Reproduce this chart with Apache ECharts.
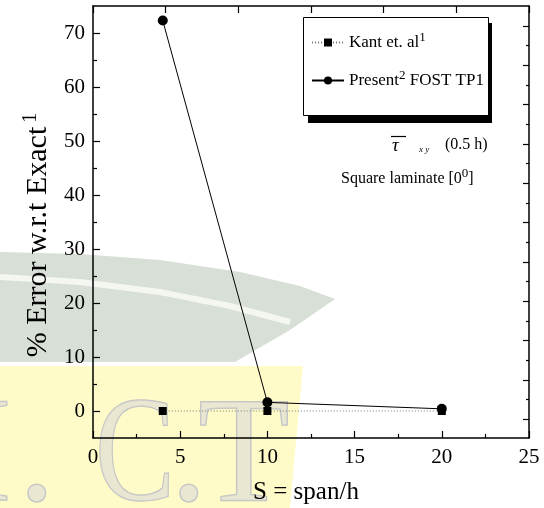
<!DOCTYPE html>
<html>
<head>
<meta charset="utf-8">
<script src="https://cdn.jsdelivr.net/npm/echarts@6/dist/echarts.min.js"></script>
<style>html,body{margin:0;padding:0;background:#fff}#c{width:544px;height:508px}</style>
</head>
<body>
<div id="c"></div>
<script>
// ---- data ----
const spanRatio = [4, 10, 20];
const kantError = [0, 0, 0];
const presentError = [72.3, 1.6, 0.4];
const seriesNames = ['Kant et. al', 'Present FOST TP1'];
const yTickValues = [0, 10, 20, 30, 40, 50, 60, 70];
const xTickValues = [0, 5, 10, 15, 20, 25];

const FONT = 'Liberation Serif';
const chart = echarts.init(document.getElementById('c'), null, {renderer: 'canvas'});

const kantData = spanRatio.map((s, i) => [s, kantError[i]]);
const presentData = spanRatio.map((s, i) => [s, presentError[i]]);

const axisLine = {show: true, onZero: false, lineStyle: {color: '#000', width: 1.5}};
const noLine = {show: false, onZero: false};
const wmStyle = (t) => ({text: t, font: '150px Liberation Serif', fill: 'rgba(215,215,215,0.55)', stroke: '#c2c2c2', lineWidth: 1.5});

const option = {
  backgroundColor: '#fff',
  animation: false,
  textStyle: {fontFamily: FONT},
  graphic: [
    {type: 'polygon', silent: true, z: -20,
      shape: {points: [[0,252],[80,254],[160,260],[240,272],[300,286],[335,299],[290,330],[235,362],[0,362]]},
      style: {fill: '#d8dfd6'}},
    {type: 'polyline', silent: true, z: -19,
      shape: {points: [[0,277],[80,282],[160,292],[230,306],[290,322]]},
      style: {stroke: '#f4f6f2', lineWidth: 6, fill: null}},
    {type: 'polygon', silent: true, z: -20,
      shape: {points: [[0,366],[303,366],[290,508],[0,508]]},
      style: {fill: '#fffbc9'}},
    {type: 'text', silent: true, z: -18, x: -38, y: 386, style: wmStyle('I')},
    {type: 'text', silent: true, z: -18, x: 18, y: 386, style: wmStyle('.')},
    {type: 'text', silent: true, z: -18, x: 95, y: 386, scaleX: 0.8, style: wmStyle('C')},
    {type: 'text', silent: true, z: -18, x: 170, y: 386, style: wmStyle('.')},
    {type: 'text', silent: true, z: -18, x: 198, y: 386, style: wmStyle('T')},
    {type: 'rect', z: 1, shape: {x: 308, y: 23, width: 184, height: 100}, style: {fill: '#000'}},
    {type: 'rect', z: 2, shape: {x: 303.5, y: 17.5, width: 185, height: 98}, style: {fill: '#fff', stroke: '#000', lineWidth: 1}},
    {type: 'text', z: 10, x: 38, y: 235, rotation: Math.PI / 2,
      style: {text: '% Error w.r.t Exact{s|1}', align: 'center', verticalAlign: 'middle',
        font: '30px Liberation Serif', fill: '#000',
        rich: {s: {fontSize: 20, fontFamily: FONT, padding: [0, 0, 14, 4], fill: '#000'}}}},
    {type: 'text', z: 10, x: 306, y: 492,
      style: {text: 'S = span/h', align: 'center', verticalAlign: 'middle', font: '25px Liberation Serif', fill: '#000'}},
    {type: 'text', z: 10, x: 392, y: 146,
      style: {text: 'τ', align: 'left', verticalAlign: 'middle', font: 'italic 19px Liberation Serif', fill: '#000'}},
    {type: 'line', z: 10, shape: {x1: 391, y1: 136.5, x2: 406, y2: 136.5}, style: {stroke: '#000', lineWidth: 1.2}},
    {type: 'text', z: 10, x: 419, y: 150,
      style: {text: 'x y', align: 'left', verticalAlign: 'middle', font: 'italic 9px Liberation Serif', fill: '#000'}},
    {type: 'text', z: 10, x: 445, y: 145,
      style: {text: '(0.5 h)', align: 'left', verticalAlign: 'middle', font: '16px Liberation Serif', fill: '#000'}},
    {type: 'text', z: 10, x: 341, y: 179,
      style: {text: 'Square laminate [0{s|0}]', align: 'left', verticalAlign: 'middle', font: '16px Liberation Serif', fill: '#000',
        rich: {s: {fontSize: 13, fontFamily: FONT, padding: [0, 0, 10, 0], fill: '#000'}}}}
  ],
  legend: {
    left: 303, top: 17, orient: 'vertical', z: 20,
    backgroundColor: 'transparent', borderWidth: 0,
    padding: [14, 8, 22, 8], itemGap: 18, itemWidth: 32, itemHeight: 10,
    data: seriesNames,
    formatter: function (name) {
      if (name === seriesNames[0]) return 'Kant et. al{s|1}';
      return 'Present{s|2} FOST TP1';
    },
    textStyle: {fontFamily: FONT, fontSize: 17, color: '#000',
      rich: {s: {fontFamily: FONT, fontSize: 13, color: '#000', padding: [0, 0, 10, 0]}}}
  },
  grid: [
    {left: 93, right: 15, top: 6, bottom: 70},
    {left: 93, right: 15, top: 33, bottom: 97},
    {left: 93, right: 15, top: 26, bottom: 88.7}
  ],
  xAxis: [
    {gridIndex: 0, type: 'value', position: 'bottom', min: 0, max: 25, interval: 5,
      axisLine: axisLine,
      axisTick: {show: true, inside: true, length: 7, lineStyle: {color: '#000', width: 1.2}},
      minorTick: {show: true, splitNumber: 2, length: 4, lineStyle: {color: '#000', width: 1.2}},
      axisLabel: {show: true, fontFamily: FONT, fontSize: 21, color: '#000', margin: 9,
        formatter: v => xTickValues.indexOf(v) >= 0 ? String(v) : ''},
      splitLine: {show: false}},
    {gridIndex: 0, type: 'value', position: 'top', min: 0, max: 25, interval: 25 / 6,
      axisLine: axisLine,
      axisTick: {show: true, inside: true, length: 7, lineStyle: {color: '#000', width: 1.2}},
      axisLabel: {show: false}, splitLine: {show: false}},
    {gridIndex: 1, type: 'value', min: 0, max: 25, show: false, axisLine: noLine},
    {gridIndex: 2, type: 'value', min: 0, max: 25, show: false, axisLine: noLine}
  ],
  yAxis: [
    {gridIndex: 0, type: 'value', position: 'left', min: -5, max: 75, interval: 5,
      axisLine: axisLine, axisTick: {show: false}, axisLabel: {show: false}, splitLine: {show: false}},
    {gridIndex: 0, type: 'value', position: 'right', min: -5, max: 75, interval: 5,
      axisLine: axisLine, axisTick: {show: false}, axisLabel: {show: false}, splitLine: {show: false}},
    {gridIndex: 1, type: 'value', position: 'left', min: 0, max: 70, interval: 10,
      axisLine: noLine,
      axisTick: {show: true, inside: true, length: 7, lineStyle: {color: '#000', width: 1.2}},
      minorTick: {show: true, splitNumber: 2, length: 4, lineStyle: {color: '#000', width: 1.2}},
      axisLabel: {show: true, fontFamily: FONT, fontSize: 21, color: '#000', margin: 8,
        formatter: v => yTickValues.indexOf(v) >= 0 ? String(v) : ''},
      splitLine: {show: false}},
    {gridIndex: 2, type: 'value', position: 'right', min: 0, max: 10, interval: 1,
      axisLine: noLine,
      axisTick: {show: true, inside: true, length: 6, lineStyle: {color: '#000', width: 1.2}},
      minorTick: {show: true, splitNumber: 2, length: 3, lineStyle: {color: '#000', width: 1.2}},
      axisLabel: {show: false}, splitLine: {show: false}}
  ],
  series: [
    {name: seriesNames[0], type: 'line', xAxisIndex: 0, yAxisIndex: 0, data: kantData,
      symbol: 'rect', symbolSize: 8, itemStyle: {color: '#000'},
      lineStyle: {color: '#777', width: 1, type: [1, 2]}, z: 3},
    {name: seriesNames[1], type: 'line', xAxisIndex: 0, yAxisIndex: 0, data: presentData,
      symbol: 'circle', symbolSize: 10, itemStyle: {color: '#000'},
      lineStyle: {color: '#000', width: 1}, z: 4}
  ]
};
chart.setOption(option);
</script>
</body>
</html>
